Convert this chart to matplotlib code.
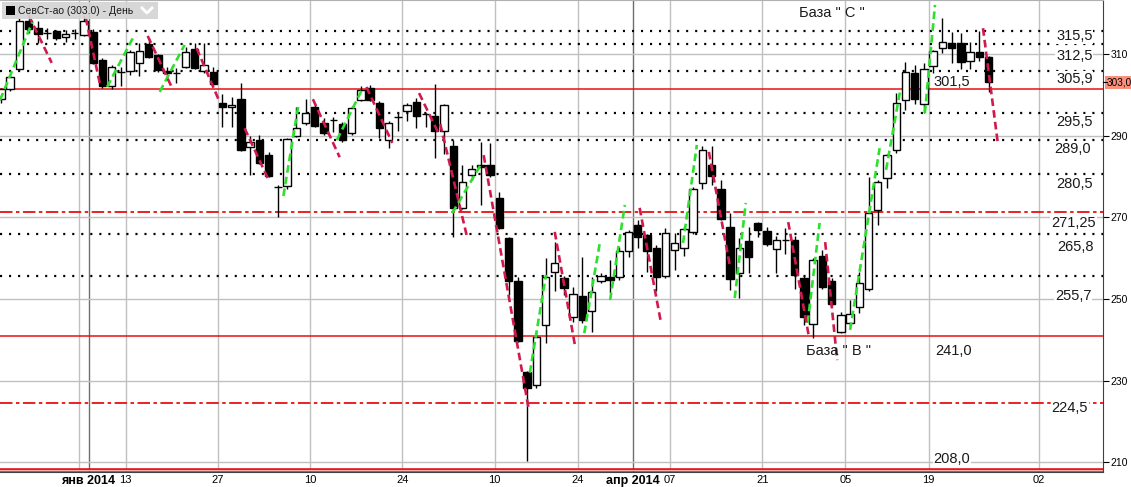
import matplotlib
matplotlib.use("Agg")
import matplotlib.pyplot as plt
from matplotlib.patches import Rectangle
from matplotlib.lines import Line2D
import matplotlib.transforms as mtransforms

plt.rcParams['font.family'] = ['Liberation Sans', 'DejaVu Sans']
plt.rcParams['lines.scale_dashes'] = False

# ---------------- data ----------------
title = "СевСт-ао (303.0) - День"

opens = [299.0, 301.4, 306.3, 318.1, 316.3, 315.2, 315.6, 314.1, 315.2, 314.6,
         315.4, 308.5, 302.1, 305.6, 305.8, 307.8, 312.4, 309.7, 305.8, 305.3,
         306.8, 311.2, 305.8, 305.6, 298.0, 297.0, 299.0, 287.2, 288.9, 285.2,
         277.4, 277.6, 289.9, 293.1, 297.0, 293.1, 293.8, 292.8, 290.6, 298.7,
         301.6, 298.0, 288.9, 294.6, 296.0, 298.2, 295.3, 294.8, 291.1, 287.4,
         272.3, 280.3, 282.8, 282.8, 274.7, 264.9, 254.4, 232.1, 228.9, 243.6,
         256.6, 255.1, 245.6, 250.7, 247.0, 254.4, 255.4, 255.4, 261.7, 268.1,
         265.6, 262.5, 255.6, 262.0, 262.5, 266.4, 278.4, 282.8, 276.9, 267.6,
         256.3, 264.2, 268.6, 266.6, 262.2, 264.4, 264.4, 255.1, 243.9, 260.5,
         254.4, 241.9, 244.1, 248.0, 252.4, 271.8, 279.6, 286.5, 298.7, 305.3,
         297.7, 307.0, 311.4, 312.7, 312.7, 308.3, 310.5, 309.2]
highs = [301.6, 304.8, 318.8, 319.5, 318.1, 316.3, 315.9, 315.9, 316.1, 319.5,
         316.0, 309.0, 307.3, 306.8, 310.9, 312.6, 313.9, 310.0, 306.8, 306.5,
         311.7, 312.7, 312.7, 306.8, 300.2, 299.4, 302.9, 289.9, 290.1, 286.0,
         277.9, 289.5, 297.0, 298.9, 297.7, 294.3, 294.5, 293.2, 297.2, 302.1,
         302.4, 298.4, 293.5, 295.5, 298.0, 299.2, 295.6, 302.6, 297.8, 288.9,
         282.8, 282.8, 288.4, 288.2, 276.2, 265.2, 255.4, 232.4, 241.9, 260.0,
         263.9, 255.5, 252.9, 260.3, 255.4, 256.3, 259.5, 262.7, 266.8, 269.3,
         266.0, 263.2, 267.4, 266.1, 267.6, 277.3, 287.4, 287.4, 279.1, 271.0,
         264.9, 267.6, 268.8, 267.6, 265.4, 267.4, 265.4, 255.5, 260.0, 262.0,
         255.1, 246.8, 249.7, 256.6, 279.9, 279.0, 285.6, 300.4, 308.0, 307.3,
         307.8, 311.0, 318.8, 315.4, 315.1, 312.9, 315.6, 309.5]
lows = [298.0, 301.0, 306.0, 315.1, 312.7, 313.6, 313.4, 312.9, 313.6, 314.3,
        307.5, 301.6, 301.4, 302.1, 304.8, 304.6, 309.0, 305.5, 303.6, 302.9,
        306.5, 306.2, 305.4, 302.3, 292.1, 292.1, 286.2, 280.3, 283.0, 279.8,
        270.0, 276.8, 289.6, 292.5, 292.0, 290.2, 290.9, 288.5, 290.2, 298.4,
        298.4, 289.4, 286.9, 291.1, 293.6, 291.8, 292.1, 284.5, 285.5, 265.2,
        272.0, 279.1, 273.0, 279.8, 267.0, 250.9, 239.4, 210.2, 228.2, 239.2,
        251.9, 250.9, 244.3, 244.1, 241.9, 253.9, 251.4, 254.6, 260.3, 262.5,
        256.6, 251.9, 255.2, 257.1, 260.5, 266.0, 276.9, 277.9, 269.2, 252.2,
        250.2, 256.3, 265.2, 263.0, 256.3, 261.0, 252.4, 243.6, 240.4, 252.5,
        248.3, 241.6, 243.4, 246.5, 251.9, 268.1, 277.2, 285.7, 296.3, 297.7,
        295.5, 305.3, 310.2, 307.8, 306.3, 306.3, 308.3, 300.7]
closes = [301.4, 304.3, 318.1, 316.1, 314.9, 315.0, 313.9, 314.9, 315.1, 318.1,
          307.8, 302.1, 306.8, 305.5, 310.5, 310.7, 309.3, 306.1, 305.3, 305.4,
          310.5, 306.5, 307.3, 302.6, 297.0, 297.5, 286.5, 288.4, 283.3, 280.1,
          277.3, 289.2, 291.8, 295.5, 292.3, 290.6, 293.7, 288.9, 296.7, 301.2,
          298.7, 291.8, 293.1, 294.5, 297.5, 294.8, 295.2, 291.1, 297.5, 272.3,
          278.6, 281.8, 282.3, 280.3, 267.4, 254.4, 239.7, 228.2, 240.7, 255.4,
          258.8, 252.7, 251.2, 244.8, 251.7, 255.6, 254.6, 261.7, 266.4, 265.2,
          261.7, 255.4, 266.1, 263.7, 267.1, 276.9, 286.5, 280.1, 269.6, 254.9,
          262.5, 260.3, 266.9, 263.4, 264.4, 264.3, 255.9, 245.6, 259.5, 252.9,
          248.7, 246.1, 246.3, 253.9, 271.0, 278.6, 285.2, 298.0, 305.6, 299.0,
          306.3, 310.7, 312.9, 311.4, 308.0, 310.5, 309.2, 303.0]

tick_pos = [8.5, 9.5, 13.5, 23.5, 33.5, 43.5, 53.5, 62.5, 68.5, 72.5, 82.5, 91.5, 100.5, 112.5]
tick_labels = ["", "янв 2014", "13", "27", "10", "24", "10", "24", "апр 2014", "07", "21", "05", "19", "02"]
major_labels = ["янв 2014", "апр 2014"]
y_ticks = [210, 230, 250, 270, 290, 310]
last_price = 303.0

dotted_levels = [315.5, 312.5, 305.9, 295.5, 289.0, 280.5, 265.8, 255.7]
solid_levels = [301.5, 241.0]
dashdot_levels = [271.25, 224.5]
floor_level = 208.0

level_texts = ["315,5", "312,5", "305,9", "301,5", "295,5", "289,0", "280,5",
               "271,25", "265,8", "255,7", "241,0", "224,5", "208,0",
               "База \" С \"", "База \" В \""]
level_text_x = [116.3, 116.3, 116.3, 103.0, 116.3, 116.1, 116.3,
                116.2, 116.4, 116.2, 103.2, 115.8, 103.0, 90.0, 90.7]
level_text_y = [314.4, 309.5, 303.9, 303.1, 293.3, 286.7, 278.1,
                268.6, 262.7, 250.7, 237.2, 223.3, 210.8, 320.0, 237.2]
level_text_boxed = [True, True, True, False, True, True, True,
                    True, True, True, False, True, True, False, False]

up_x0 = [-0.1, 11.5, 17.2, 30.6, 36.4, 48.9, 57.3, 63.2, 66.0, 73.9, 79.5, 87.4, 92.0, 95.9, 100.1]
up_y0 = [298.7, 301.9, 300.7, 275.2, 288.9, 271.0, 231.9, 241.6, 249.7, 263.7, 250.2, 244.1, 242.4, 281.6, 295.5]
up_x1 = [3.4, 14.3, 19.9, 32.2, 39.2, 52.1, 59.05, 64.9, 67.6, 75.4, 80.7, 88.7, 95.2, 97.4, 101.2]
up_y1 = [317.8, 313.9, 312.2, 297.0, 301.6, 283.3, 255.9, 263.9, 273.0, 287.7, 273.5, 268.6, 286.9, 300.7, 322.0]

dn_x0 = [3.0, 9.2, 15.9, 21.2, 26.4, 33.8, 39.6, 45.3, 47.6, 52.3, 60.0, 69.2, 76.7, 85.3, 89.3, 106.4]
dn_y0 = [319.5, 318.8, 314.4, 311.4, 291.8, 298.9, 301.9, 300.4, 292.8, 285.2, 266.4, 272.3, 286.0, 268.8, 263.9, 316.3]
dn_x1 = [5.5, 10.7, 18.6, 23.7, 28.9, 36.7, 42.4, 47.4, 50.5, 57.2, 62.2, 71.5, 79.0, 87.5, 90.6, 108.0]
dn_y1 = [307.8, 302.9, 301.4, 298.2, 279.6, 284.7, 288.2, 290.6, 265.2, 222.8, 238.5, 244.3, 257.8, 241.2, 235.0, 288.2]

# ---------------- figure ----------------
W, H = 1131, 487
fig = plt.figure(figsize=(W / 100, H / 100), dpi=100)
ax = fig.add_axes([0, 15 / H, 1103 / W, 472 / H])
ax.set_xlim(-0.1, 119.4)
ax.set_ylim(207.6, 323.2)

# grid
for p, lab in zip(tick_pos, tick_labels):
    dark = lab in major_labels
    ax.axvline(p, color='#6e6e6e' if dark else '#c0c0c0', lw=1.0, zorder=0)
for yt in y_ticks:
    ax.axhline(yt, color='#c0c0c0', lw=1.0, zorder=0)

# levels
for lv in dotted_levels:
    ax.axhline(lv, color='black', lw=1.6, linestyle=(0, (1.5, 5.0)), zorder=1)
for lv in solid_levels:
    ax.axhline(lv, color='#e81010', lw=1.1, zorder=1)
for lv in dashdot_levels:
    ax.axhline(lv, color='#e81010', lw=1.3, linestyle=(0, (9, 2.5, 2.5, 2.5)), zorder=1)
ax.axhline(floor_level, color='#e81010', lw=2.6, zorder=1)
ax.axhline(floor_level, color='#f7b0b0', lw=0.8, zorder=1)

# candles
bw = 0.8
for i, (o, h, l, c) in enumerate(zip(opens, highs, lows, closes)):
    ax.plot([i, i], [l, h], color='black', lw=1.0, zorder=3, solid_capstyle='butt')
    bottom = min(o, c)
    height = max(abs(c - o), 0.12)
    fc = 'white' if c >= o else 'black'
    ax.add_patch(Rectangle((i - bw / 2, bottom), bw, height, facecolor=fc,
                           edgecolor='black', lw=1.0, zorder=4))

# trend dashes
for x0, y0, x1, y1 in zip(up_x0, up_y0, up_x1, up_y1):
    ax.plot([x0, x1], [y0, y1], color='#2ee02e', lw=1.9,
            linestyle=(0, (5.5, 3.0)), zorder=5, dash_capstyle='butt')
for x0, y0, x1, y1 in zip(dn_x0, dn_y0, dn_x1, dn_y1):
    ax.plot([x0, x1], [y0, y1], color='#d01a4e', lw=1.9,
            linestyle=(0, (5.5, 3.0)), zorder=5, dash_capstyle='butt')

# level labels
for t, x, y, boxed in zip(level_texts, level_text_x, level_text_y, level_text_boxed):
    kw = {}
    if boxed:
        kw['bbox'] = dict(facecolor='white', edgecolor='none', pad=0.5)
    ax.text(x, y, t, ha='center', va='center', fontsize=10.5, color='#1a1a1a',
            zorder=6, **kw)

# axes styling
ax.spines['left'].set_visible(False)
ax.spines['top'].set_color('#b0b0b0')
ax.spines['right'].set_color('#404040')
ax.spines['bottom'].set_color('#404040')

ax.yaxis.tick_right()
ax.set_yticks(y_ticks)
ax.set_yticklabels([str(v) for v in y_ticks])
ax.tick_params(axis='y', direction='out', length=4, width=0.8, pad=1.5,
               labelsize=7.5, colors='black')

ax.set_xticks(tick_pos)
ax.set_xticklabels(tick_labels)
ax.tick_params(axis='x', length=0, pad=2, labelsize=8)
for lbl in ax.get_xticklabels():
    if lbl.get_text() in major_labels:
        lbl.set_fontweight('bold')
        lbl.set_fontsize(9)

# last price marker on right axis
trans = mtransforms.blended_transform_factory(ax.transAxes, ax.transData)
ax.text(1.0035, last_price, f"{last_price:.1f}".replace('.', ','), transform=trans,
        ha='left', va='center', fontsize=7.2, color='black', clip_on=False, zorder=7,
        bbox=dict(facecolor='#f8907c', edgecolor='none', boxstyle='square,pad=0.15'))
ax.plot([1.0, 1.0035], [last_price, last_price], transform=trans, color='black',
        lw=0.8, clip_on=False, zorder=8)

# title box
fig.patches.append(Rectangle((2 / W, 1 - 19 / H), 156 / W, 17 / H, transform=fig.transFigure,
                             facecolor='#d4d4d4', edgecolor='none', alpha=0.92, zorder=10))
fig.patches.append(Rectangle((6 / W, 1 - 15 / H), 9 / W, 9 / H, transform=fig.transFigure,
                             facecolor='black', edgecolor='none', zorder=11))
fig.text(18 / W, 1 - 11 / H, title, ha='left', va='center', fontsize=7.5,
         color='#1a1a1a', zorder=12)
fig.lines.append(Line2D([142 / W, 147 / W, 152 / W], [1 - 8 / H, 1 - 13 / H, 1 - 8 / H],
                        transform=fig.transFigure, color='white', lw=2, zorder=12))

fig.savefig("out.png", dpi=100)
